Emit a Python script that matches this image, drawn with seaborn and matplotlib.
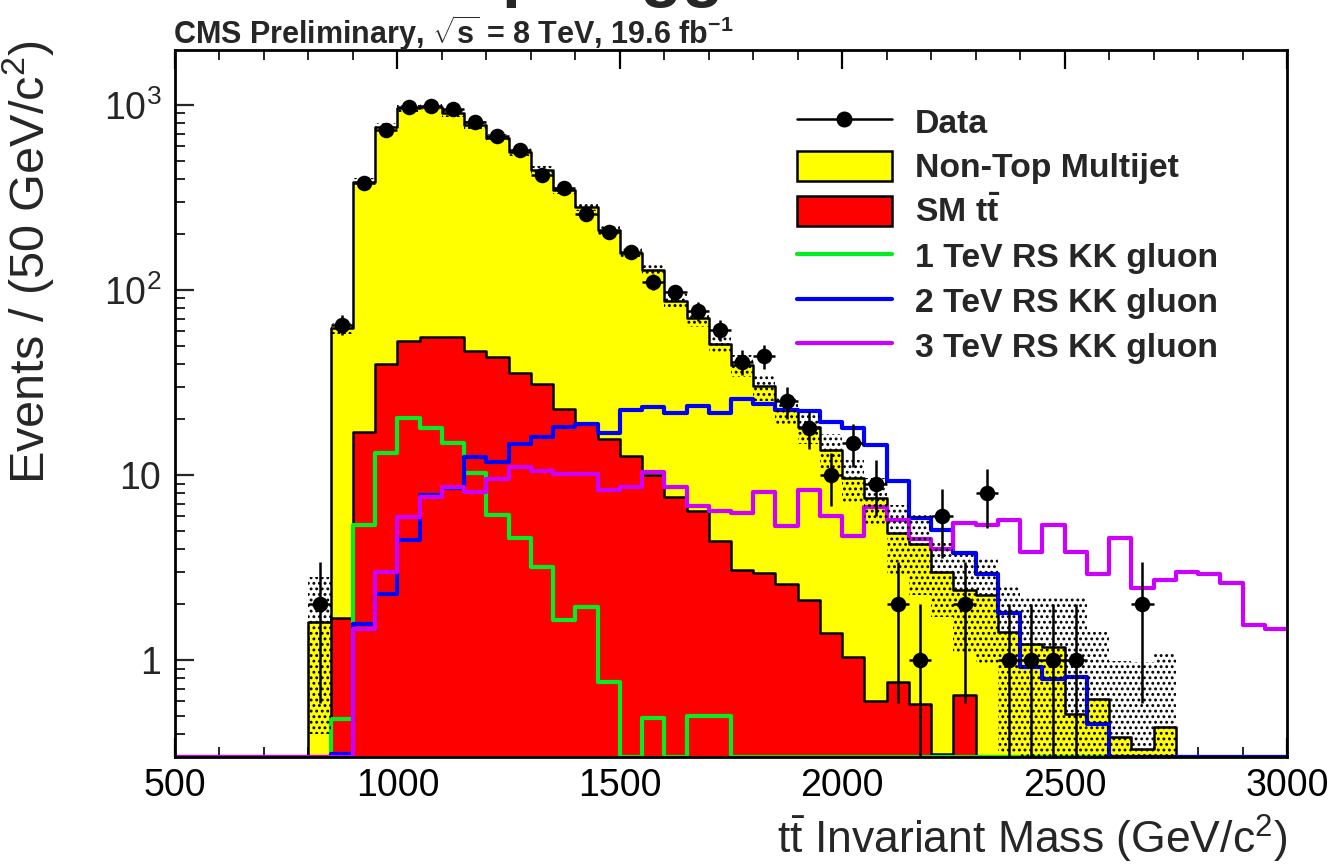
import numpy as np
import pandas as pd
import matplotlib
matplotlib.use("Agg")
import matplotlib.pyplot as plt
import seaborn as sns
from matplotlib.lines import Line2D
from matplotlib.patches import Patch
from matplotlib.ticker import FixedLocator, FixedFormatter, LogLocator, NullFormatter, MultipleLocator

# ---------------------------------------------------------------- data
bin_edges = list(range(500, 3001, 50))        # 50 GeV bins, 500-3000 GeV
n_empty = 6                                   # bins 500-800 have no entries

data_counts = [0] * n_empty + [
    2, 65, 380, 730, 970, 990, 950, 810, 680, 570,
    420, 354, 257, 206, 161, 111, 97, 77, 61, 41,
    44, 25, 18, 10, 15, 9, 2, 1, 6, 2,
    8, 1, 1, 1, 1, 0, 0, 2, 0, 0,
    0, 0, 0, 0]

multijet = [0] * n_empty + [
    1.6, 60.3, 368, 723, 907, 924, 846, 733, 617, 524,
    414, 324, 263, 195, 145, 118, 80, 64, 47, 36.2,
    27.3, 19.9, 16.1, 12.2, 8.6, 6.9, 4.1, 3.66, 2.7, 1.75,
    2.25, 1.42, 1.22, 1.18, 0.51, 0.62, 0.385, 0.333, 0.436, 0,
    0, 0, 0, 0]

ttbar = [0] * n_empty + [
    0, 1.7, 17, 40, 53, 56, 56, 47, 43.6, 35.5,
    31, 22.7, 19, 15.6, 12.7, 10, 7.6, 6.4, 4.4, 3.07,
    2.96, 2.58, 2.11, 1.41, 1.04, 0.6, 0.76, 0.58, 0.31, 0.65,
    0, 0, 0, 0, 0, 0, 0, 0, 0, 0,
    0, 0, 0, 0]

bkg_uncertainty = [0] * n_empty + [
    1.2, 4, 19, 38, 45, 45, 42, 37, 32, 28,
    23, 18, 15, 12, 10, 9, 8, 7, 6, 5.5,
    5, 4, 3.5, 3, 2.5, 2.2, 2.0, 2.0, 1.3, 1.3,
    1.3, 1.1, 1.0, 1.0, 1.7, 0.8, 0.6, 0.65, 0.67, 0,
    0, 0, 0, 0]

kk_1tev = [0] * 7 + [
    0.48, 5.4, 13.2, 20.3, 17.9, 15.0, 10.3, 6.1, 4.55, 3.2,
    1.65, 1.94, 0.76, 0, 0.49, 0, 0.5, 0.5] + [0] * 25

kk_2tev = [0] * 7 + [
    0.31, 1.56, 2.29, 4.45, 7.8, 8.5, 12.6, 11.7, 14.8, 16.0,
    18.2, 19.0, 16.9, 22.5, 23.3, 21.6, 23.5, 21.6, 25.7, 24.1,
    22.6, 22.2, 19.4, 17.9, 14.6, 9.3, 5.85, 5.05, 3.8, 2.94,
    1.8, 0.92, 0.79, 0.81, 0.45] + [0] * 8

kk_3tev = [0] * 8 + [
    1.48, 2.98, 5.95, 7.6, 8.6, 8.1, 9.5, 11.0, 10.5, 10.1,
    10.1, 8.3, 8.65, 10.4, 8.6, 6.8, 6.4, 6.25, 8.1, 5.3,
    8.3, 6.0, 4.7, 6.7, 5.7, 4.5, 4.0, 5.5, 5.4, 5.7,
    3.85, 5.37, 3.85, 2.94, 4.55, 2.47, 2.71, 3.0, 2.94, 2.6,
    1.55, 1.47]

signal_labels = ["1 TeV RS KK gluon", "2 TeV RS KK gluon", "3 TeV RS KK gluon"]
signal_colors = ["#00ee22", "#0000ff", "#cc00ff"]

x_ticks = [500, 1000, 1500, 2000, 2500, 3000]
y_ticks = [1, 10, 100, 1000]
y_tick_labels = ["1", "10", r"$10^{2}$", r"$10^{3}$"]

# ---------------------------------------------------------------- style
sns.set_theme(style="ticks")
plt.rcParams["font.family"] = ["Liberation Sans", "DejaVu Sans"]
plt.rcParams["mathtext.fontset"] = "custom"
plt.rcParams["mathtext.rm"] = "Liberation Sans"
plt.rcParams["mathtext.it"] = "Liberation Sans:italic"
plt.rcParams["mathtext.bf"] = "Liberation Sans:bold"
plt.rcParams["hatch.linewidth"] = 1.3
plt.rcParams["hatch.color"] = "black"

y_floor, y_top = 0.3, 1980

fig = plt.figure(figsize=(13.34, 8.68), dpi=100)
ax = fig.add_axes([175 / 1334, 1 - 757 / 868, 1112 / 1334, 707 / 868])
ax.set_yscale("log")

edges = np.array(bin_edges, float)
centers = 0.5 * (edges[:-1] + edges[1:])
half_width = 0.5 * (edges[1] - edges[0])

mj = np.array(multijet, float)
tt = np.array(ttbar, float)
stack_total = mj + tt

hist_df = pd.DataFrame({"mass": centers, "total": stack_total, "ttbar": tt,
                        "kk1": np.clip(np.array(kk_1tev, float), y_floor, None),
                        "kk2": np.clip(np.array(kk_2tev, float), y_floor, None),
                        "kk3": np.clip(np.array(kk_3tev, float), y_floor, None)})

# stacked backgrounds: multijet on top of SM ttbar
sns.histplot(data=hist_df, x="mass", weights="total", bins=bin_edges, element="step",
             fill=True, color="#ffff00", alpha=1, edgecolor="black", linewidth=1.8, ax=ax)
sns.histplot(data=hist_df, x="mass", weights="ttbar", bins=bin_edges, element="step",
             fill=True, color="#ff0000", alpha=1, edgecolor="black", linewidth=1.8, ax=ax)

# background uncertainty band (dotted)
err = np.array(bkg_uncertainty, float)
band_lo = np.append(np.clip(stack_total - err, 1e-3, None), 1e-3)
band_hi = np.append(stack_total + err, 1e-3)
ax.fill_between(edges, band_lo, band_hi, step="post", facecolor="none",
                edgecolor="black", hatch="...", linewidth=0, zorder=2.5)

# signal templates, empty bins drawn on the axis floor
for col_name, col in zip(["kk1", "kk2", "kk3"], signal_colors):
    sns.histplot(data=hist_df, x="mass", weights=col_name, bins=bin_edges,
                 element="step", fill=False, color=col, linewidth=3.0, ax=ax)

# data with Poisson errors
counts = np.array(data_counts, float)
nz = counts > 0
ax.errorbar(centers[nz], counts[nz], yerr=np.sqrt(counts[nz]), xerr=half_width,
            fmt="none", ecolor="black", elinewidth=1.8, capsize=0, zorder=5)
sns.scatterplot(x=centers[nz], y=counts[nz], color="black", s=125,
                edgecolor="black", linewidth=0, zorder=6, ax=ax)

# ---------------------------------------------------------------- axes
ax.set_xlim(500, 3000)
ax.set_ylim(y_floor, y_top)
ax.xaxis.set_major_locator(FixedLocator(x_ticks))
ax.xaxis.set_minor_locator(MultipleLocator(100))
ax.yaxis.set_major_locator(FixedLocator(y_ticks))
ax.yaxis.set_major_formatter(FixedFormatter(y_tick_labels))
ax.yaxis.set_minor_locator(LogLocator(base=10, subs=np.arange(2, 10)))
ax.yaxis.set_minor_formatter(NullFormatter())
ax.tick_params(axis="x", which="major", direction="in", length=14, width=1.6,
               top=True, labelsize=27, pad=8, colors="black")
ax.tick_params(axis="x", which="minor", direction="in", length=7, width=1.4, top=True)
ax.tick_params(axis="y", which="major", direction="in", length=14, width=1.6,
               right=False, labelsize=27, pad=10)
ax.tick_params(axis="y", which="minor", direction="in", length=7, width=1.4, right=False)
for s in ax.spines.values():
    s.set_linewidth(2.0)
    s.set_color("black")
    s.set_visible(True)
    s.set_zorder(10)

ax.set_xlabel(r"$\mathrm{t\bar{t}}$ Invariant Mass (GeV/c$^{2}$)", fontsize=32,
              loc="right", labelpad=6)
ax.set_ylabel("")
fig.text(28 / 1334, 1 - 40 / 868, r"Events / (50 GeV/c$^{2}$)", fontsize=35,
         rotation=90, ha="center", va="top")

# page title above the frame (only its descenders fall inside the canvas)
fig.text(424 / 1334, 1 + 6 / 868, "Top-Tagged", fontsize=49, fontweight="bold",
         ha="left", va="baseline")

fig.text(173 / 1334, 1 - 44 / 868,
         r"CMS Preliminary, $\mathbf{\sqrt{s}}$ = 8 TeV, 19.6 fb$^{\mathbf{-1}}$",
         fontsize=22, fontweight="bold", ha="left", va="baseline")

# ---------------------------------------------------------------- legend
handles = [
    Line2D([0], [0], color="black", lw=1.8, marker="o", markersize=10.5),
    Patch(facecolor="#ffff00", edgecolor="black", linewidth=1.8),
    Patch(facecolor="#ff0000", edgecolor="black", linewidth=1.8),
] + [Line2D([0], [0], color=c, lw=3.0) for c in signal_colors]
labels = ["Data", "Non-Top Multijet", r"SM $\mathbf{t\bar{t}}$"] + signal_labels
leg = ax.legend(handles, labels, loc="upper left",
                bbox_to_anchor=(797 / 1334, 1 - 106 / 868), bbox_transform=fig.transFigure,
                frameon=False, borderpad=0, borderaxespad=0, handlelength=2.8,
                handleheight=1.0, handletextpad=0.69, labelspacing=0.33,
                prop={"weight": "bold", "size": 24.3})

fig.savefig("out.png", dpi=100)
